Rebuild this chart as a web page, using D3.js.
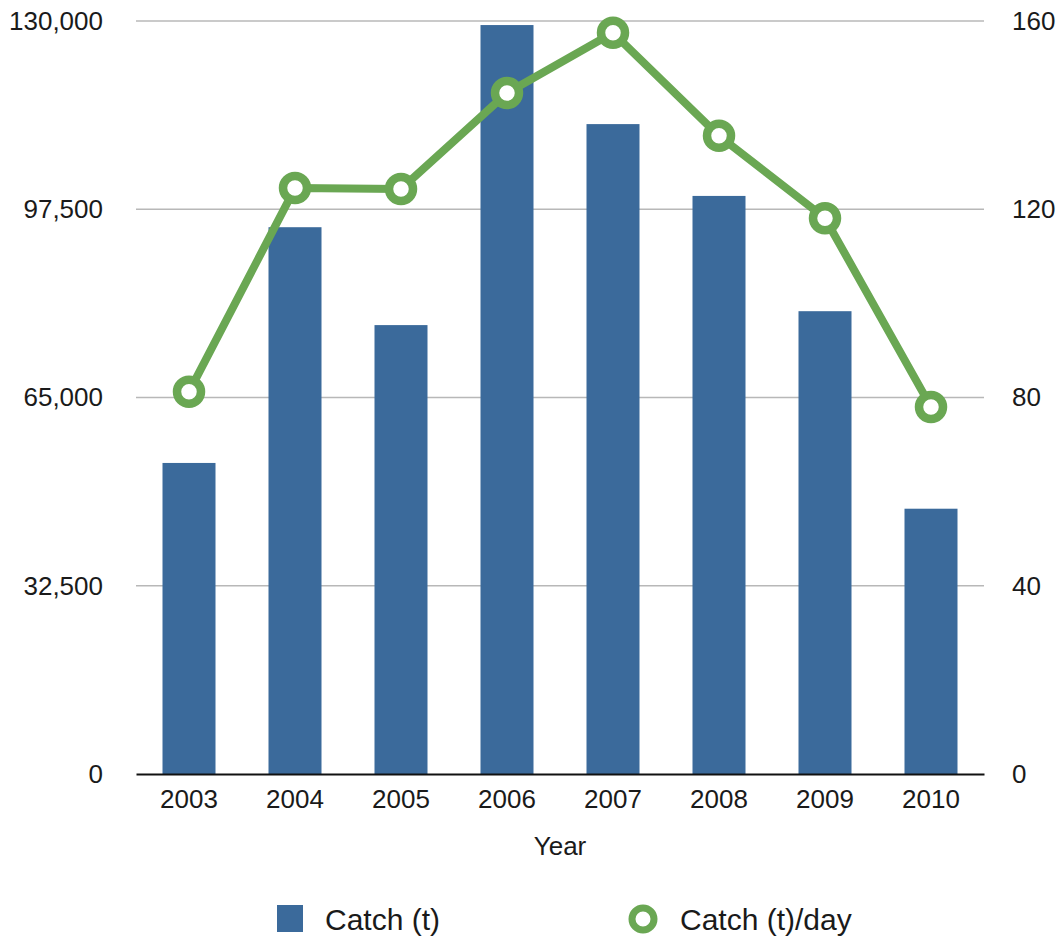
<!DOCTYPE html>
<html><head><meta charset="utf-8">
<script src="https://cdn.jsdelivr.net/npm/d3@7"></script>
<style>body{margin:0;background:#fff}svg{display:block}text{font-family:"Liberation Sans",Arial,sans-serif;fill:#1a1a1a}</style>
</head><body><svg id="c" width="1063" height="942"></svg>
<script>
const years = ["2003","2004","2005","2006","2007","2008","2009","2010"];
const catchT = [53700, 94400, 77500, 129300, 112200, 99800, 79900, 45800];
const catchPerDay = [81.2, 124.5, 124.3, 144.7, 157.5, 135.6, 118.1, 78.0];
const leftTicks = [0, 32500, 65000, 97500, 130000];
const rightTicks = [0, 40, 80, 120, 160];
const seriesNames = ["Catch (t)", "Catch (t)/day"];

const barColor = "#3b6a9b", lineColor = "#6aa753";
const svg = d3.select("#c");
const L = 136, R = 984, T = 21, B = 774;
const x = d3.scaleBand().domain(years).range([L, R]).paddingInner(0.5).paddingOuter(0.25);
const yL = d3.scaleLinear().domain([0, 130000]).range([B, T]);
const yR = d3.scaleLinear().domain([0, 160]).range([B, T]);
const fs = 26, lfs = 30;
const ff = "Liberation Sans, Arial, sans-serif";

// gridlines
svg.append("g").selectAll("line").data(leftTicks.slice(1)).join("line")
  .attr("x1", L).attr("x2", R).attr("y1", d => yL(d)).attr("y2", d => yL(d))
  .attr("stroke", "#b8b8b8").attr("stroke-width", 1.5);

// left axis
const ax = svg.append("g").attr("transform", `translate(${L},0)`)
  .call(d3.axisLeft(yL).tickValues(leftTicks).tickSize(0).tickPadding(33).tickFormat(d3.format(",")));
ax.select(".domain").remove();
ax.selectAll("text").style("font-size", fs + "px").style("font-family", ff).attr("fill", "#1a1a1a");

const axr = svg.append("g").attr("transform", `translate(${R},0)`)
  .call(d3.axisRight(yR).tickValues(rightTicks).tickSize(0).tickPadding(28));
axr.select(".domain").remove();
axr.selectAll("text").style("font-size", fs + "px").style("font-family", ff).attr("fill", "#1a1a1a");

// bars
svg.append("g").selectAll("rect").data(years).join("rect")
  .attr("x", d => x(d)).attr("width", x.bandwidth())
  .attr("y", (d, i) => yL(catchT[i])).attr("height", (d, i) => B - yL(catchT[i]))
  .attr("fill", barColor);

// x axis
const axb = svg.append("g").attr("transform", `translate(0,${B})`)
  .call(d3.axisBottom(x).tickSize(0).tickPadding(16));
axb.select(".domain").attr("stroke", "#111").attr("stroke-width", 2);
axb.selectAll("text").style("font-size", fs + "px").style("font-family", ff).attr("fill", "#1a1a1a");

svg.append("text").attr("x", (L + R) / 2).attr("y", 855).attr("text-anchor", "middle")
  .style("font-size", fs + "px").text("Year");

// line
const cx = d => x(d) + x.bandwidth() / 2;
svg.append("path").datum(years)
  .attr("d", d3.line().x(cx).y((d, i) => yR(catchPerDay[i])))
  .attr("fill", "none").attr("stroke", lineColor).attr("stroke-width", 8).attr("stroke-linejoin", "round");
svg.append("g").selectAll("circle").data(years).join("circle")
  .attr("cx", cx).attr("cy", (d, i) => yR(catchPerDay[i])).attr("r", 12)
  .attr("fill", "#fff").attr("stroke", lineColor).attr("stroke-width", 8.5);

// legend
const lg = svg.append("g");
lg.append("rect").attr("x", 277).attr("y", 905).attr("width", 26).attr("height", 27).attr("fill", barColor);
lg.append("text").attr("x", 325).attr("y", 930).style("font-size", lfs + "px").text(seriesNames[0]);
lg.append("circle").attr("cx", 643).attr("cy", 919).attr("r", 11).attr("fill", "#fff").attr("stroke", lineColor).attr("stroke-width", 7);
lg.append("text").attr("x", 680).attr("y", 930).style("font-size", lfs + "px").text(seriesNames[1]);
</script></body></html>
